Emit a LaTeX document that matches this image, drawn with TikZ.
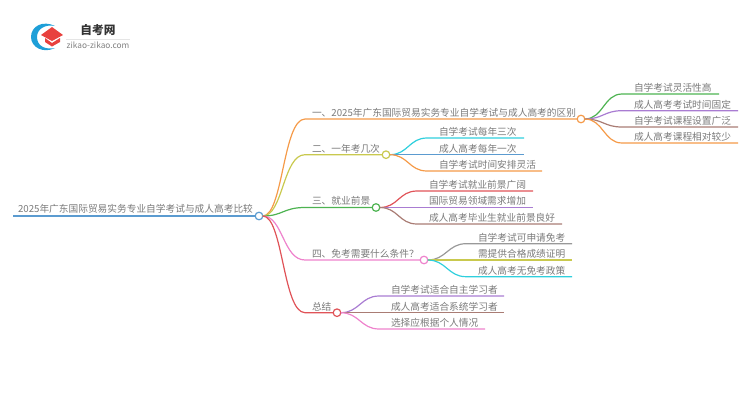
\documentclass[tikz,border=0pt]{standalone}
\usepackage{fontspec}
\setmainfont{Noto Sans CJK SC}
\definecolor{cBlue}{HTML}{5B9BD0}
\definecolor{cOrange}{HTML}{F59A48}
\definecolor{cOlive}{HTML}{C9C94E}
\definecolor{cGreen}{HTML}{4DB351}
\definecolor{cPink}{HTML}{EE82CC}
\definecolor{cRed}{HTML}{E05358}
\definecolor{cPurple}{HTML}{A97CD2}
\definecolor{cBrown}{HTML}{A97C74}
\definecolor{cCyan}{HTML}{2FCFDD}
\definecolor{cGrey}{HTML}{999999}
\definecolor{cLogo}{HTML}{1E9FD8}
\definecolor{cCap}{HTML}{E8413E}
\tikzset{
  txt/.style={anchor=south west,inner xsep=0pt,inner ysep=1.8pt,outer sep=0pt,text=black!52,font=\fontsize{9.7}{11}\selectfont},
  dot/.style={circle,draw=#1,fill=white,line width=1.2pt,minimum size=7.6pt,inner sep=0pt,outer sep=0pt},
  wire/.style={line width=1.2pt,#1}
}
\begin{document}
\begin{tikzpicture}[x=1pt,y=-1pt]
  \useasboundingbox (0,0) rectangle (750,410);
  % logo
  \fill[cLogo] (55,26) .. controls (43,20) and (31,26) .. (31,37) .. controls (31,47) and (43,54) .. (55,48) .. controls (45,50) and (37,46) .. (37,37) .. controls (37,29) and (45,24) .. (55,26) -- cycle;
  \fill[cCap] (41,35)--(52,27)--(63,35)--(52,41)--cycle;
  \fill[cCap] (45,38)--(52,43)--(60,38)--(60,42)--(52,46.5)--(45,42)--cycle;
  \node[inner sep=0pt,text=black!80,font=\fontsize{11.7}{13}\selectfont\bfseries] (brand) at (98,30.5) {自考网};
  \node[inner sep=0pt,text=black!50,font=\fontsize{8.3}{10}\selectfont] (site) at (98,45) {zikao-zikao.com};
  \draw[black!10,line width=0.6pt] (66,39)--(130,39);

  % root
  \node[dot=cBlue] (root) at (259,216) {};
  \node[txt,inner ysep=3pt] (rootTxt) at (18,216) {2025年广东国际贸易实务专业自学考试与成人高考比较};
  \coordinate (rootEnd) at (13,216);
  \draw[wire=cBlue,line width=2pt] (rootEnd) -- (root);

  % first level
  \node[dot=cOrange] (one) at (581,119) {};
  \node[dot=cOlive] (two) at (386,154.7) {};
  \node[dot=cGreen] (three) at (376,207.5) {};
  \node[dot=cPink] (four) at (424,260) {};
  \node[dot=cRed] (five) at (337,312.7) {};
  \node[txt] (oneTxt) at (312,119) {一、2025年广东国际贸易实务专业自学考试与成人高考的区别};
  \node[txt] (twoTxt) at (312,154.7) {二、一年考几次};
  \node[txt] (threeTxt) at (312,207.5) {三、就业前景};
  \node[txt] (fourTxt) at (312,260) {四、免考需要什么条件？};
  \node[txt] (fiveTxt) at (312,312.7) {总结};
  \draw[wire=cOrange] (root.east) .. controls (283,216) and (283,119) .. (305,119) -- (one);
  \draw[wire=cOlive] (root.east) .. controls (283,216) and (283,154.7) .. (305,154.7) -- (two);
  \draw[wire=cGreen] (root.east) .. controls (283,216) and (283,207.5) .. (305,207.5) -- (three);
  \draw[wire=cPink] (root.east) .. controls (283,216) and (283,260) .. (305,260) -- (four);
  \draw[wire=cRed] (root.east) .. controls (283,216) and (283,312.7) .. (305,312.7) -- (five);

  % leaves of one
  \node[txt] (oneA) at (634,94) {自学考试灵活性高};
  \node[txt] (oneB) at (634,110.7) {成人高考考试时间固定};
  \node[txt] (oneC) at (634,127) {自学考试课程设置广泛};
  \node[txt] (oneD) at (634,143) {成人高考课程相对较少};
  \coordinate (oneAe) at (719,94);
  \coordinate (oneBe) at (738,110.7);
  \coordinate (oneCe) at (738,127);
  \coordinate (oneDe) at (738,143);
  \draw[wire=cGreen] (one.east) .. controls (603,119) and (604,94) .. (622,94) -- (oneAe);
  \draw[wire=cPurple] (one.east) .. controls (603,119) and (604,110.7) .. (622,110.7) -- (oneBe);
  \draw[wire=cBrown] (one.east) .. controls (603,119) and (604,127) .. (622,127) -- (oneCe);
  \draw[wire=cOrange] (one.east) .. controls (603,119) and (604,143) .. (622,143) -- (oneDe);

  % leaves of two
  \node[txt] (twoA) at (439,138) {自学考试每年三次};
  \node[txt] (twoB) at (439,154.7) {成人高考每年一次};
  \node[txt] (twoC) at (439,171) {自学考试时间安排灵活};
  \coordinate (twoAe) at (524,138);
  \coordinate (twoBe) at (524,154.7);
  \coordinate (twoCe) at (542,171);
  \draw[wire=cCyan] (two.east) .. controls (408,154.7) and (409,138) .. (427,138) -- (twoAe);
  \draw[wire=cBlue] (two.east) -- (twoBe);
  \draw[wire=cOrange] (two.east) .. controls (408,154.7) and (409,171) .. (427,171) -- (twoCe);

  % leaves of three
  \node[txt] (threeA) at (429,191) {自学考试就业前景广阔};
  \node[txt] (threeB) at (429,207.5) {国际贸易领域需求增加};
  \node[txt] (threeC) at (429,224) {成人高考毕业生就业前景良好};
  \coordinate (threeAe) at (533,191);
  \coordinate (threeBe) at (533,207.5);
  \coordinate (threeCe) at (562,224);
  \draw[wire=cRed] (three.east) .. controls (398,207.5) and (399,191) .. (417,191) -- (threeAe);
  \draw[wire=cPurple] (three.east) -- (threeBe);
  \draw[wire=cBrown] (three.east) .. controls (398,207.5) and (399,224) .. (417,224) -- (threeCe);

  % leaves of four
  \node[txt] (fourA) at (478,243.7) {自学考试可申请免考};
  \node[txt] (fourB) at (478,260) {需提供合格成绩证明};
  \node[txt] (fourC) at (478,276.7) {成人高考无免考政策};
  \coordinate (fourAe) at (572,243.7);
  \coordinate (fourBe) at (572,260);
  \coordinate (fourCe) at (572,276.7);
  \draw[wire=cGrey] (four.east) .. controls (446,260) and (448,243.7) .. (466,243.7) -- (fourAe);
  \draw[wire=cOlive] (four.east) -- (fourBe);
  \draw[wire=cCyan] (four.east) .. controls (446,260) and (448,276.7) .. (466,276.7) -- (fourCe);

  % leaves of five
  \node[txt] (fiveA) at (391,296) {自学考试适合自主学习者};
  \node[txt] (fiveB) at (391,312.7) {成人高考适合系统学习者};
  \node[txt] (fiveC) at (391,329) {选择应根据个人情况};
  \coordinate (fiveAe) at (504,296);
  \coordinate (fiveBe) at (504,312.7);
  \coordinate (fiveCe) at (485,329);
  \draw[wire=cPurple] (five.east) .. controls (359,312.7) and (361,296) .. (379,296) -- (fiveAe);
  \draw[wire=cBrown] (five.east) -- (fiveBe);
  \draw[wire=cPink] (five.east) .. controls (359,312.7) and (361,329) .. (379,329) -- (fiveCe);
\end{tikzpicture}
\end{document}
